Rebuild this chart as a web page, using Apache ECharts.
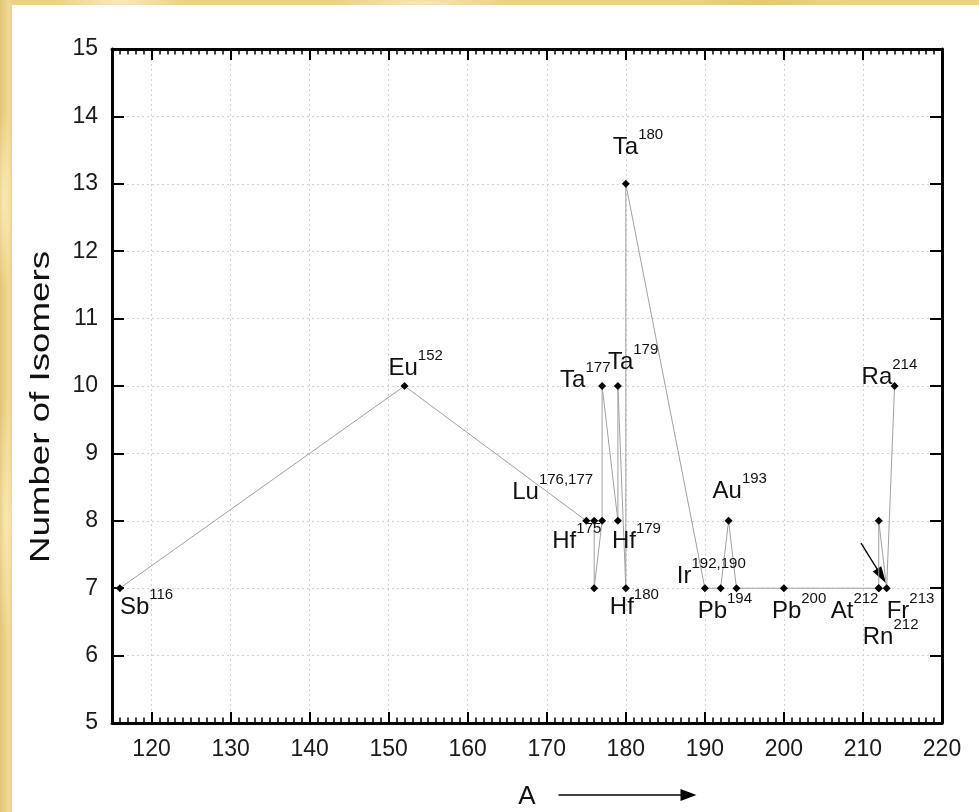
<!DOCTYPE html>
<html>
<head>
<meta charset="utf-8">
<script src="https://cdn.jsdelivr.net/npm/echarts@6/dist/echarts.min.js"></script>
<style>
  html, body { margin: 0; padding: 0; }
  body {
    width: 979px; height: 812px; overflow: hidden; position: relative;
    background:
      radial-gradient(ellipse 60px 8px at 120px 2px, rgba(255,246,210,0.7), rgba(255,246,210,0) 100%),
      radial-gradient(ellipse 80px 8px at 420px 3px, rgba(255,246,210,0.6), rgba(255,246,210,0) 100%),
      radial-gradient(ellipse 90px 8px at 760px 2px, rgba(222,190,100,0.6), rgba(222,190,100,0) 100%),
      radial-gradient(ellipse 10px 90px at 4px 200px, rgba(255,244,200,0.7), rgba(255,244,200,0) 100%),
      radial-gradient(ellipse 10px 120px at 6px 520px, rgba(255,244,200,0.6), rgba(255,244,200,0) 100%),
      linear-gradient(90deg, #e3c575 0px, #efd994 8px, #ecd28d 12px);
  }
  #panel { position: absolute; left: 12px; top: 5px; right: 0; bottom: 0; background: #ffffff; }
  #chart { position: absolute; left: 0; top: 0; width: 979px; height: 812px; }
</style>
</head>
<body>
<div id="panel"></div>
<div id="chart"></div>
<script>
// Mass number A of each isomer-rich nuclide, in plotting order
const massNumbers  = [116, 152, 175, 176, 176, 177, 177, 179, 179, 180, 180, 190, 192, 193, 194, 200, 212, 212, 212, 213, 214];
// Number of isomers known for each of them
const isomerCounts = [7,   10,  8,   8,   7,   8,   10,  8,   10,  7,   13,  7,   7,   8,   7,   7,   7,   7,   8,   7,   10];
// Element symbol and mass superscript written next to a point ('' = no label)
const elementNames = ['Sb', 'Eu', 'Hf', 'Lu', '', '', 'Ta', 'Hf', 'Ta', 'Hf', 'Ta', 'Ir', 'Pb', 'Au', '', 'Pb', 'At', 'Rn', '', 'Fr', 'Ra'];
const massLabels   = ['116', '152', '175', '176,177', '', '', '177', '179', '179', '180', '180', '192,190', '194', '193', '', '200', '212', '212', '', '213', '214'];
// Axis tick values
const xTicks = [120, 130, 140, 150, 160, 170, 180, 190, 200, 210, 220];
const yTicks = [5, 6, 7, 8, 9, 10, 11, 12, 13, 14, 15];
// Pointer arrow near A = 212: tail and head in data units (A, number of isomers)
const pointerTail = [209.75, 7.67];
const pointerHead = [212.35, 7.18];

// Label placement: pixel offset of the label's left edge / middle from its point
const labelOffsets = [
  [0, 19], [-16, -18], [-34, 21], [-82, -28], null, null, [-42, -6], [-6, 21], [-10, -24],
  [-16, 19], [-13, -36], [-28, -12], [-23, 23], [-16, -29], null, [-12, 23], [-48, 23],
  [-16, 49], null, [0, 23], [-33, -9]
];

const FONT = '"Liberation Sans", Arial, Helvetica, sans-serif';
const INK = '#111111';

const seriesData = massNumbers.map((a, i) => {
  const item = { value: [a, isomerCounts[i]] };
  if (elementNames[i]) {
    item.label = {
      show: true,
      position: 'inside',
      align: 'left',
      verticalAlign: 'middle',
      offset: labelOffsets[i],
      formatter: '{m|' + elementNames[i] + '}{s|' + massLabels[i] + '}'
    };
  }
  return item;
});

const xMin = 115, xMax = 220, yMin = yTicks[0], yMax = yTicks[yTicks.length - 1];

const majorTick = { show: true, inside: true, length: 11, lineStyle: { color: '#000', width: 2 } };
const minorTick = { show: true, inside: true, length: 5.5, lineStyle: { color: '#000', width: 1.5 } };
const frameLine = { show: true, onZero: false, lineStyle: { color: '#000', width: 3 } };
const gridDots = { show: true, lineStyle: { color: '#d2d2d2', width: 1, type: [2, 3] } };
const tickText = { color: '#1a1a1a', fontSize: 23, fontFamily: FONT };

const chart = echarts.init(document.getElementById('chart'), null, { renderer: 'canvas' });
chart.setOption({
  animation: false,
  backgroundColor: 'transparent',
  grid: { left: 112, top: 49, right: 37, bottom: 89, containLabel: false, outerBoundsMode: 'none' },
  xAxis: [
    {
      type: 'value', position: 'bottom', min: xMin, max: xMax,
      splitNumber: xTicks.length - 1, minInterval: 10, maxInterval: 10,
      axisLine: frameLine, axisTick: majorTick,
      axisLabel: Object.assign({ margin: 15, showMinLabel: false,
        formatter: v => (xTicks.indexOf(v) >= 0 ? String(v) : '') }, tickText),
      splitLine: gridDots,
      name: 'A', nameLocation: 'middle', nameGap: 61,
      nameTextStyle: { color: INK, fontSize: 26, fontFamily: FONT }
    },
    {
      type: 'value', position: 'bottom', min: xMin, max: xMax, interval: 1,
      axisLine: { show: false }, axisTick: minorTick, axisLabel: { show: false }, splitLine: { show: false }
    },
    {
      type: 'value', position: 'top', min: xMin, max: xMax,
      splitNumber: xTicks.length - 1, minInterval: 10, maxInterval: 10,
      axisLine: frameLine, axisTick: majorTick, axisLabel: { show: false }, splitLine: { show: false }
    },
    {
      type: 'value', position: 'top', min: xMin, max: xMax, interval: 1,
      axisLine: { show: false }, axisTick: minorTick, axisLabel: { show: false }, splitLine: { show: false }
    }
  ],
  yAxis: [
    {
      type: 'value', position: 'left', min: yMin, max: yMax, interval: 1,
      axisLine: frameLine, axisTick: Object.assign({}, majorTick, { length: 12 }),
      axisLabel: Object.assign({ margin: 14 }, tickText),
      splitLine: gridDots
    },
    {
      type: 'value', position: 'right', min: yMin, max: yMax, interval: 1,
      axisLine: frameLine, axisTick: Object.assign({}, majorTick, { length: 12 }),
      axisLabel: { show: false }, splitLine: { show: false }
    }
  ],
  series: [
    {
      type: 'line',
      xAxisIndex: 0, yAxisIndex: 0,
      data: seriesData,
      symbol: 'diamond', symbolSize: 8,
      itemStyle: { color: '#000' },
      lineStyle: { color: '#a0a0a0', width: 1 },
      z: 5,
      label: {
        show: false,
        color: INK,
        rich: {
          m: { fontSize: 24, lineHeight: 40, color: INK, fontFamily: FONT, verticalAlign: 'middle' },
          s: { fontSize: 15, lineHeight: 20, color: INK, fontFamily: FONT, verticalAlign: 'top' }
        }
      },
      markLine: {
        silent: true,
        animation: false,
        symbol: ['none', 'triangle'],
        label: { show: false },
        lineStyle: { color: '#000', width: 1.3, type: 'solid' },
        data: [[
          { coord: pointerTail, symbol: 'none' },
          { coord: pointerHead, symbol: 'triangle', symbolSize: [10, 17] }
        ]]
      }
    }
  ],
  graphic: [
    {
      // y-axis title, drawn with the wide lettering used on this figure
      type: 'text', x: 42, y: 407, rotation: Math.PI / 2, scaleX: 1.36, silent: true,
      style: { text: 'Number of Isomers', fill: INK, fontSize: 27, fontFamily: FONT,
               align: 'center', verticalAlign: 'middle' }
    },
    {
      // direction arrow next to the x-axis title
      type: 'group', left: 556, top: 789, silent: true,
      children: [
        { type: 'line', shape: { x1: 0, y1: 6, x2: 124, y2: 6 }, style: { stroke: '#000', lineWidth: 1.5 } },
        { type: 'polygon', shape: { points: [[122, 0], [138, 6], [122, 12]] }, style: { fill: '#000' } }
      ]
    }
  ]
});
</script>
</body>
</html>
